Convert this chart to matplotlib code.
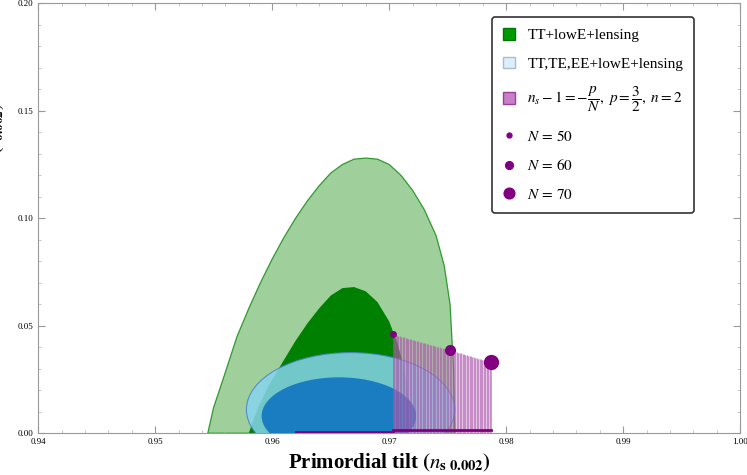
import matplotlib
matplotlib.use('Agg')
import matplotlib.pyplot as plt
import numpy as np
from matplotlib.patches import Ellipse, Patch
from matplotlib.lines import Line2D

plt.rcParams['font.family'] = ['Liberation Serif', 'DejaVu Serif']
plt.rcParams['mathtext.fontset'] = 'stix'

# ── data ─────────────────────────────────────────────
outer_ns = [0.9545, 0.9550, 0.9558, 0.957, 0.958, 0.959, 0.960, 0.961, 0.962, 0.963,
            0.964, 0.965, 0.966, 0.967, 0.968, 0.969, 0.970, 0.971, 0.972, 0.973,
            0.974, 0.9747, 0.9752, 0.9755, 0.9756]
outer_r = [0.0, 0.012, 0.025, 0.045, 0.058, 0.07, 0.081, 0.091, 0.100, 0.108,
           0.115, 0.121, 0.125, 0.1275, 0.128, 0.1275, 0.125, 0.12, 0.113, 0.104,
           0.092, 0.078, 0.06, 0.03, 0.0]
inner_ns = [0.958, 0.9588, 0.9598, 0.961, 0.962, 0.963, 0.964, 0.965, 0.966, 0.967,
            0.968, 0.969, 0.970, 0.9707, 0.9713, 0.9717, 0.9718]
inner_r = [0.0, 0.012, 0.023, 0.034, 0.043, 0.051, 0.058, 0.064, 0.0675, 0.068,
           0.066, 0.061, 0.052, 0.042, 0.03, 0.015, 0.0]
# TT,TE,EE ellipses: centre ns, centre r, half-width ns, half-height r
blue_outer = (0.9667, 0.011, 0.0089, 0.0265)
blue_inner = (0.9657, 0.008, 0.0066, 0.0180)
N_vals = [50, 60, 70]
N_ns = [0.9703, 0.9752, 0.9787]
N_r = [0.046, 0.0386, 0.033]
N_size = [5, 8, 11]

fig = plt.figure(figsize=(7.47, 4.75), dpi=100)
ax = fig.add_axes([0.051, 0.088, 0.94, 0.905])
ax.set_xlim(0.94, 1.00)
ax.set_ylim(0.0, 0.20)

ax.fill(outer_ns, outer_r, fc='#9fcf9b', ec='#2e9a2e', lw=0.9, zorder=1)
ax.fill(inner_ns, inner_r, fc='#008000', ec='none', zorder=2)
for (cx, cy, w, h), fc in [(blue_outer, '#87d4ee'), (blue_inner, '#0b6fc0')]:
    ax.add_patch(Ellipse((cx, cy), 2*w, 2*h, angle=0, fc=fc,
                         ec='#4a7fd0' if fc == '#87d4ee' else 'none',
                         lw=0.8, alpha=0.85, zorder=3))

# model band from the N points down to r=0
ax.fill_between(N_ns, N_r, 0, color='#c77fc7', alpha=0.45, lw=0, zorder=4)
xs = np.linspace(N_ns[0], N_ns[-1], 70)
ys = np.interp(xs, N_ns, N_r)
ax.vlines(xs, 0, ys, colors='#9b3f9b', lw=0.5, alpha=0.6, zorder=4)
ax.plot([N_ns[0], N_ns[-1]], [0.0015, 0.0015], color='#800080', lw=2, zorder=5)
ax.plot([0.962, N_ns[0]], [0.0007, 0.0007], color='#800080', lw=2, zorder=5)
for x, y, s in zip(N_ns, N_r, N_size):
    ax.plot(x, y, 'o', color='#800080', ms=s, mec='none', zorder=6)

ax.set_xticks(np.arange(0.94, 1.001, 0.01))
ax.set_xticklabels([f'{v:.2f}' for v in np.arange(0.94, 1.001, 0.01)])
ax.set_xticks(np.arange(0.94, 1.001, 0.002), minor=True)
ax.set_yticks(np.arange(0, 0.201, 0.05))
ax.set_yticklabels([f'{v:.2f}' for v in np.arange(0, 0.201, 0.05)])
ax.set_yticks(np.arange(0, 0.201, 0.01), minor=True)
ax.tick_params(labelsize=6.5, color='#999999', direction='in', length=5,
               top=True, right=True)
ax.tick_params(which='minor', color='#bbbbbb', direction='in', length=2.5,
               top=True, right=True)
for s in ax.spines.values():
    s.set_color('#999999')

ax.set_xlabel(r'Primordial tilt $\mathbf{(}\mathit{n}_{\mathbf{s\ 0.002}}\mathbf{)}$',
              fontsize=15, fontweight='bold', labelpad=4)
ax.set_ylabel(r'Tensor-to-scalar ratio $\mathbf{(}\mathit{r}_{\mathbf{0.002}}\mathbf{)}$',
              fontsize=13.5, fontweight='bold', labelpad=1)
ax.yaxis.set_label_coords(-0.045, 0.5)

handles = [
    Patch(fc='#009900', ec='#007700'),
    Patch(fc='#ddeeff', ec='#aabbcc'),
    Patch(fc='#c77fc7', ec='#9b3f9b'),
] + [Line2D([], [], ls='none', marker='o', color='#800080', ms=s*0.7)
     for s in N_size]
labels = ['TT+lowE+lensing', 'TT,TE,EE+lowE+lensing',
          r'$n_s-1=-\dfrac{p}{N},\ p=\dfrac{3}{2},\ n=2$'] + \
         [rf'$N\,=\,{n}$' for n in N_vals]
leg = ax.legend(handles, labels, loc='upper right', bbox_to_anchor=(0.945, 0.985),
                fontsize=11, frameon=True, fancybox=True, handlelength=0.8,
                handleheight=0.8, labelspacing=0.95, borderpad=0.7)
leg.get_frame().set_edgecolor('black')
leg.get_frame().set_linewidth(1.2)

fig.savefig('out.png', dpi=100)
